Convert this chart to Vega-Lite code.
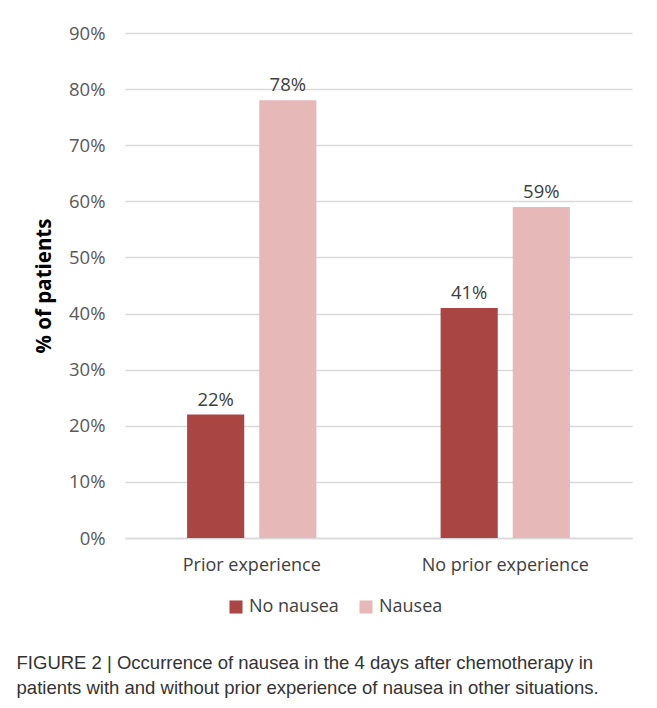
{
  "$schema": "https://vega.github.io/schema/vega-lite/v6.json",
  "width": 507,
  "height": 505,
  "padding": {"left": 16, "top": 24, "right": 25, "bottom": 10},
  "background": "white",
  "config": {
    "view": {"stroke": null}
  },
  "title": {
    "text": ["FIGURE 2 | Occurrence of nausea in the 4 days after chemotherapy in", "patients with and without prior experience of nausea in other situations."],
    "orient": "bottom",
    "anchor": "start",
    "frame": "bounds",
    "dx": -18,
    "offset": 38,
    "font": "Liberation Sans",
    "fontSize": 18.5,
    "fontWeight": "normal",
    "color": "#333333",
    "lineHeight": 25
  },
  "data": {
    "values": [
      {"group": "Prior experience", "status": "No nausea", "value": 0.22},
      {"group": "Prior experience", "status": "Nausea", "value": 0.78},
      {"group": "No prior experience", "status": "No nausea", "value": 0.41},
      {"group": "No prior experience", "status": "Nausea", "value": 0.59}
    ]
  },
  "encoding": {
    "x": {
      "field": "group", "type": "nominal",
      "sort": ["Prior experience", "No prior experience"],
      "scale": {"paddingInner": 0.49, "paddingOuter": 0.245},
      "axis": {"title": null, "labelAngle": 0, "ticks": false, "labelPadding": 18, "labelFontSize": 18, "labelColor": "#404040", "labelFont": "Open Sans", "domainColor": "#d9d9d9", "domainWidth": 1.5}
    },
    "xOffset": {
      "field": "status", "type": "nominal",
      "sort": ["No nausea", "Nausea"],
      "scale": {"paddingInner": 0.208, "paddingOuter": 0}
    },
    "y": {
      "field": "value", "type": "quantitative",
      "scale": {"domain": [0, 0.9], "nice": false},
      "axis": {
        "title": "% of patients", "titleFont": "Open Sans", "titleFontSize": 20.5, "titleFontWeight": "bold", "titleColor": "#000000", "titlePadding": 14,
        "values": [0, 0.1, 0.2, 0.3, 0.4, 0.5, 0.6, 0.7, 0.8, 0.9],
        "format": ".0%", "labelFontSize": 18.5, "labelColor": "#595959", "labelFont": "Open Sans", "labelPadding": 20,
        "domain": false, "ticks": false, "gridColor": "#d9d9d9", "gridWidth": 1.5
      }
    }
  },
  "layer": [
    {
      "mark": {"type": "bar"},
      "encoding": {
        "color": {
          "field": "status", "type": "nominal",
          "sort": ["No nausea", "Nausea"],
          "scale": {"domain": ["No nausea", "Nausea"], "range": ["#A94543", "#E6B8B7"]},
          "legend": {"title": null, "orient": "none", "legendX": 102, "legendY": 565, "direction": "horizontal", "symbolType": "square", "symbolSize": 170, "symbolStrokeWidth": 0, "labelFontSize": 18, "labelColor": "#404040", "labelFont": "Open Sans", "columnPadding": 18, "labelOffset": 4}
        }
      }
    },
    {
      "mark": {"type": "text", "dy": -15, "fontSize": 18.5, "font": "Open Sans", "color": "#404040"},
      "encoding": {
        "text": {"field": "value", "type": "quantitative", "format": ".0%"}
      }
    }
  ]
}
